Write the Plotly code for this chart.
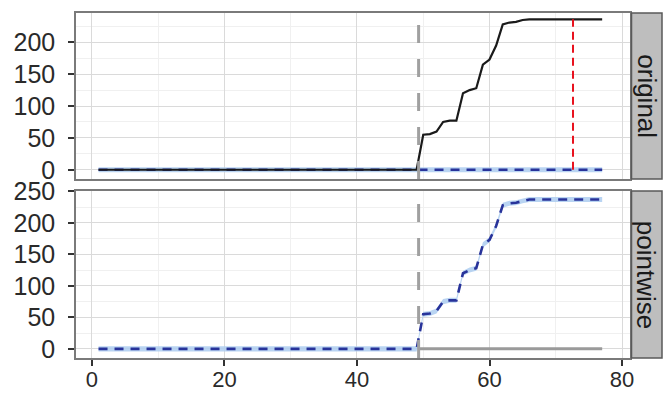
import plotly.graph_objects as go

# ---------------- data ----------------
time_index = list(range(1, 78))
original = [0] * 49 + [55, 56, 60, 75, 77, 77, 120, 125, 128, 165, 173, 195, 228, 231,
                       232, 235, 236, 236, 236, 236, 236, 236, 236, 236, 236, 236, 236, 236]
predicted = [0] * 77
pred_lower = [-4] * 77
pred_upper = [4] * 77
pointwise = [0] * 49 + [55, 56, 60, 75, 77, 77, 120, 125, 128, 165, 173, 195, 228, 231,
                        232, 235, 237, 237, 237, 237, 237, 237, 237, 237, 237, 237, 237, 237]
pointwise_lower = [v - 4 for v in pointwise]
pointwise_upper = [v + 4 for v in pointwise]
post_x = [49.3, 77]
zero_line = [0, 0]
intervention_x = 49.3
marker_x = [72.6, 72.6]
marker_y = [0, 236]
facet_labels = ["original", "pointwise"]
x_ticks = [0, 20, 40, 60, 80]
y_ticks = [0, 50, 100, 150, 200, 250]

# ---------------- styles ----------------
FONT = "Liberation Sans, Arial, sans-serif"
BLUE = "#28339A"
RIBBON = "rgba(173,205,240,0.85)"
GRID_MAJOR = "#DADADA"
GRID_MINOR = "#F0F0F0"
BORDER = "#7A7A7A"

fig = go.Figure()

def ribbon(xs, lo, hi, xa, ya):
    fig.add_trace(go.Scatter(x=xs + xs[::-1], y=hi + lo[::-1], fill="toself",
                             fillcolor=RIBBON, line=dict(width=0), mode="lines",
                             hoverinfo="skip", showlegend=False, xaxis=xa, yaxis=ya))

# top panel: original
ribbon(time_index, pred_lower, pred_upper, "x", "y")
fig.add_trace(go.Scatter(x=time_index, y=predicted, mode="lines",
                         line=dict(color=BLUE, width=2.6, dash="9px,7px"),
                         showlegend=False, xaxis="x", yaxis="y"))
fig.add_trace(go.Scatter(x=time_index, y=original, mode="lines",
                         line=dict(color="#1A1A1A", width=2.2),
                         showlegend=False, xaxis="x", yaxis="y"))
fig.add_trace(go.Scatter(x=marker_x, y=marker_y, mode="lines",
                         line=dict(color="#E8121E", width=2, dash="8px,5px"),
                         showlegend=False, xaxis="x", yaxis="y"))

# bottom panel: pointwise
ribbon(time_index, pointwise_lower, pointwise_upper, "x2", "y2")
fig.add_trace(go.Scatter(x=post_x, y=zero_line, mode="lines",
                         line=dict(color="#9A9A9A", width=3),
                         showlegend=False, xaxis="x2", yaxis="y2"))
fig.add_trace(go.Scatter(x=time_index, y=pointwise, mode="lines",
                         line=dict(color=BLUE, width=2.6, dash="9px,7px"),
                         showlegend=False, xaxis="x2", yaxis="y2"))

# intervention vertical lines in both panels
for xr_, yr_ in (("x", "y domain"), ("x2", "y2 domain")):
    fig.add_shape(type="line", xref=xr_, yref=yr_, x0=intervention_x, x1=intervention_x,
                  y0=0, y1=1, line=dict(color="#A0A0A0", width=3, dash="18px,16px"),
                  layer="above")

axis_common = dict(showline=True, linecolor=BORDER, linewidth=1.5, mirror=True,
                   gridcolor=GRID_MAJOR, gridwidth=1.4, zeroline=False, automargin=False,
                   ticklen=6, tickwidth=1.5, tickcolor="#333333",
                   tickfont=dict(family=FONT, size=25, color="#2A2A2A"),
                   minor=dict(showgrid=True, gridcolor=GRID_MINOR, gridwidth=1, ticks=""))

xr = [-2.4, 81.2]
fig.update_layout(
    width=664, height=394,
    margin=dict(l=76, r=34, t=13, b=36),
    paper_bgcolor="white", plot_bgcolor="white",
    xaxis=dict(domain=[0, 1], anchor="y", range=xr, tickvals=x_ticks, showticklabels=False,
               ticks="", **axis_common),
    yaxis=dict(domain=[0.5188, 1], anchor="x", range=[-14.5, 246], tickvals=y_ticks,
               ticks="outside", ticklabelstandoff=8, **axis_common),
    xaxis2=dict(domain=[0, 1], anchor="y2", range=xr, tickvals=x_ticks,
                ticks="outside", ticklabelstandoff=-5, **axis_common),
    yaxis2=dict(domain=[0, 0.484], anchor="x2", range=[-14.5, 250.5], tickvals=y_ticks,
                ticks="outside", ticklabelstandoff=8, **axis_common),
)
fig.update_layout(xaxis2_tickfont=dict(family=FONT, size=22, color="#2A2A2A"))
fig.update_xaxes(minor=dict(dtick=10, tick0=0))
fig.update_yaxes(minor=dict(dtick=25, tick0=0))

# facet strips on the right
plot_w = 664 - 76 - 34
sx0 = 1 + 1.5 / plot_w
sx1 = 1 + 32 / plot_w
for (y0, y1), label in zip(((0.5188, 1), (0, 0.484)), facet_labels):
    fig.add_shape(type="rect", xref="paper", yref="paper", x0=sx0, x1=sx1, y0=y0, y1=y1,
                  fillcolor="#BEBEBE", line=dict(color="#5A5A5A", width=1.5))
    fig.add_annotation(xref="paper", yref="paper", x=(sx0 + sx1) / 2, y=(y0 + y1) / 2,
                       xanchor="center", yanchor="middle",
                       text=label, textangle=90, showarrow=False,
                       font=dict(family=FONT, size=26, color="#1A1A1A"))

fig.write_html("out.html")
